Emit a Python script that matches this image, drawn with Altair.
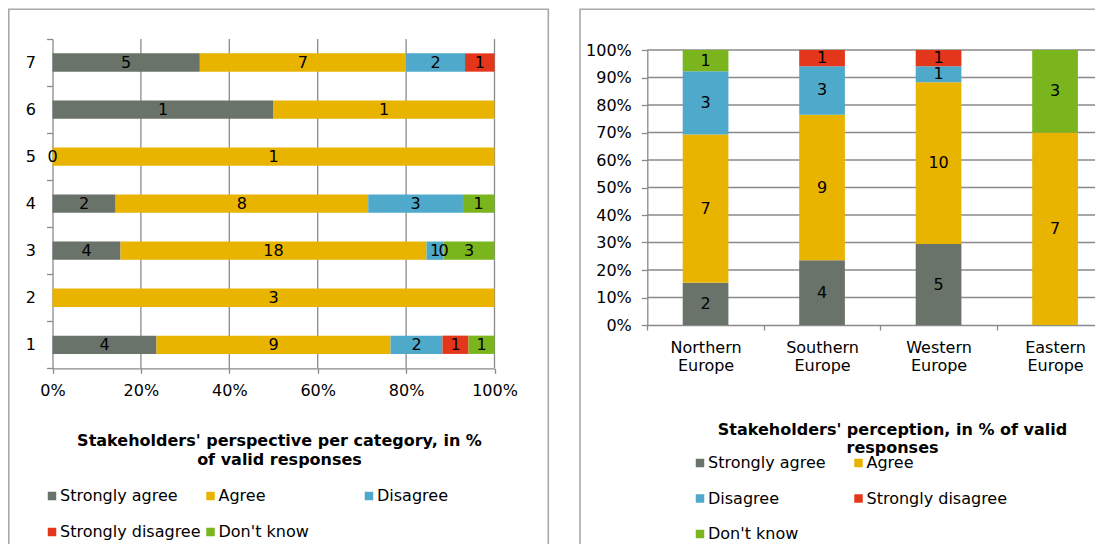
import altair as alt
import pandas as pd

# ---------------- data ----------------
responses = ["Strongly agree", "Agree", "Disagree", "Strongly disagree", "Don't know"]
colors = ["#6A7369", "#E8B400", "#4FA9CB", "#E3361A", "#7AB51E"]

# left chart: categories listed top to bottom
left_categories = ["7", "6", "5", "4", "3", "2", "1"]
left_strongly_agree = [5, 1, 0, 2, 4, None, 4]
left_agree = [7, 1, 1, 8, 18, 3, 9]
left_disagree = [2, None, None, 3, 1, None, 2]
left_strongly_disagree = [1, None, None, None, 0, None, 1]
left_dont_know = [None, None, None, 1, 3, None, 1]
left_ticks = [0, 0.2, 0.4, 0.6, 0.8, 1.0]

# right chart
regions = ["Northern Europe", "Southern Europe", "Western Europe", "Eastern Europe"]
right_strongly_agree = [2, 4, 5, None]
right_agree = [7, 9, 10, 7]
right_disagree = [3, 3, 1, None]
right_strongly_disagree = [None, 1, 1, None]
right_dont_know = [1, None, None, 3]
right_ticks = [0, 0.1, 0.2, 0.3, 0.4, 0.5, 0.6, 0.7, 0.8, 0.9, 1.0]

left_title = ["Stakeholders' perspective per category, in %", "of valid responses"]
right_title = ["Stakeholders' perception, in % of valid", "responses"]


def build(cats, series):
    rows = []
    for ci, c in enumerate(cats):
        for ri, (r, vals) in enumerate(zip(responses, series)):
            v = vals[ci]
            if v is not None:
                rows.append({"cat": c, "resp": r, "order": ri, "n": v})
    return pd.DataFrame(rows)


left_df = build(left_categories, [left_strongly_agree, left_agree, left_disagree,
                                  left_strongly_disagree, left_dont_know])
right_df = build(regions, [right_strongly_agree, right_agree, right_disagree,
                           right_strongly_disagree, right_dont_know])

# ---------------- styling ----------------
FONT = "DejaVu Sans"
GRID = "#8A8A8A"
BORDER = "#A8A8A8"
W, H = 1087, 536

# left geometry (chart coords)
LX0, LX1 = 44.5, 486.5
LY0, LY1 = 31.0, 360.3
# right geometry
RX0, RX1 = 639.3, 1105.3
RY0, RY1 = 317.0, 42.0


def legend(x, y, cols, row_pad):
    return alt.Legend(
        title=None, orient="none", legendX=x, legendY=y, columns=cols,
        direction="horizontal", gridAlign="all", symbolType="square",
        symbolSize=72, symbolStrokeWidth=0, labelFont=FONT, labelFontSize=16,
        labelColor="#000000", labelOffset=0, rowPadding=row_pad,
        columnPadding=1.5, labelLimit=300,
    )


color_left = alt.Color("resp:N", scale=alt.Scale(domain=responses, range=colors),
                       legend=legend(36, 480, 3, 20))
color_right = alt.Color("resp:N", scale=alt.Scale(domain=responses, range=colors),
                        legend=legend(684, 447, 2, 19.5))

# ---------------- left chart ----------------
lx_scale = alt.Scale(domain=[0, 1], range=[LX0, LX1], nice=False, zero=False)
ly_scale = alt.Scale(domain=left_categories, range=[LY0, LY1],
                     paddingInner=0, paddingOuter=0)

lx_axis = alt.Axis(
    orient="bottom", offset=LY1 - H, values=left_ticks, format=".0%", grid=False,
    labelFlush=False,
    domainColor=GRID, domainWidth=1.3, tickColor=GRID, tickWidth=1.3, tickSize=5,
    labelFont=FONT, labelFontSize=16, labelColor="#000000", labelPadding=9,
    title=left_title, titleFont=FONT, titleFontSize=16, titleFontWeight="bold",
    titleColor="#000000", titleX=271, titleY=77, titleAlign="center",
    titleBaseline="alphabetic", titleLineHeight=19, titleAngle=0,
)
ly_axis = alt.Axis(
    orient="left", offset=-LX0, grid=False, tickBand="extent",
    domainColor=GRID, domainWidth=1.3, tickColor=GRID, tickWidth=1.3, tickSize=6,
    labelFont=FONT, labelFontSize=16, labelColor="#000000", labelPadding=11,
    title=None,
)

left_base = alt.Chart(left_df).transform_stack(
    stack="n", groupby=["cat"], as_=["s0", "s1"], offset="normalize",
    sort=[alt.SortField("order", order="ascending")],
).transform_calculate(mid="(datum.s0 + datum.s1) / 2")

left_grid = alt.Chart(pd.DataFrame({"v": left_ticks[1:]})).mark_rule(
    color=GRID, strokeWidth=1.3
).encode(
    x=alt.X("v:Q", scale=lx_scale, axis=lx_axis),
    y=alt.value(LY0), y2=alt.value(LY1),
)
left_bars = left_base.mark_bar(size=18.3).encode(
    x=alt.X("s0:Q", scale=lx_scale, axis=lx_axis),
    x2="s1:Q",
    y=alt.Y("cat:N", scale=ly_scale, axis=ly_axis, sort=left_categories),
    color=color_left,
)
left_text = left_base.mark_text(font=FONT, fontSize=16, color="#000000",
                                baseline="middle").encode(
    x=alt.X("mid:Q", scale=lx_scale, axis=lx_axis),
    y=alt.Y("cat:N", scale=ly_scale, axis=ly_axis, sort=left_categories),
    text=alt.Text("n:Q"),
)
left = alt.layer(left_grid, left_bars, left_text)

# ---------------- right chart ----------------
rx_scale = alt.Scale(domain=regions, range=[RX0, RX1], paddingInner=0, paddingOuter=0)
ry_scale = alt.Scale(domain=[0, 1], range=[RY0, RY1], nice=False, zero=False)

rx_axis = alt.Axis(
    orient="bottom", offset=RY0 - H, grid=False, tickBand="extent", labelAngle=0,
    labelExpr="split(datum.label, ' ')", labelLineHeight=18.5,
    domainColor=GRID, domainWidth=1.3, tickColor=GRID, tickWidth=1.3, tickSize=5,
    labelFont=FONT, labelFontSize=16, labelColor="#000000", labelPadding=9,
    title=right_title, titleFont=FONT, titleFontSize=16, titleFontWeight="bold",
    titleColor="#000000", titleX=884, titleY=109, titleAlign="center",
    titleBaseline="alphabetic", titleLineHeight=18.5, titleAngle=0,
)
ry_axis = alt.Axis(
    orient="left", offset=-RX0, values=right_ticks, format=".0%", grid=False,
    labelFlush=False,
    domainColor=GRID, domainWidth=1.3, tickColor=GRID, tickWidth=1.3, tickSize=6,
    labelFont=FONT, labelFontSize=16, labelColor="#000000", labelPadding=10,
    title=None,
)

right_base = alt.Chart(right_df).transform_stack(
    stack="n", groupby=["cat"], as_=["s0", "s1"], offset="normalize",
    sort=[alt.SortField("order", order="ascending")],
).transform_calculate(mid="(datum.s0 + datum.s1) / 2")

right_grid = alt.Chart(pd.DataFrame({"v": right_ticks[1:]})).mark_rule(
    color=GRID, strokeWidth=1.3
).encode(
    y=alt.Y("v:Q", scale=ry_scale, axis=ry_axis),
    x=alt.value(RX0), x2=alt.value(RX1),
)
right_bars = right_base.mark_bar(size=45.7).encode(
    x=alt.X("cat:N", scale=rx_scale, axis=rx_axis, sort=regions),
    y=alt.Y("s0:Q", scale=ry_scale, axis=ry_axis),
    y2="s1:Q",
    color=color_right,
)
right_text = right_base.mark_text(font=FONT, fontSize=16, color="#000000",
                                  baseline="middle").encode(
    x=alt.X("cat:N", scale=rx_scale, axis=rx_axis, sort=regions),
    y=alt.Y("mid:Q", scale=ry_scale, axis=ry_axis),
    text=alt.Text("n:Q"),
)
right = alt.layer(right_grid, right_bars, right_text)

# ---------------- panel borders ----------------
border_left = alt.Chart(pd.DataFrame({"p": [0]})).mark_rect(
    fillOpacity=0, stroke=BORDER, strokeWidth=1.6
).encode(x=alt.value(0.8), x2=alt.value(540.3), y=alt.value(1.3), y2=alt.value(620))
border_right = alt.Chart(pd.DataFrame({"p": [0]})).mark_rect(
    fillOpacity=0, stroke=BORDER, strokeWidth=1.6
).encode(x=alt.value(572), x2=alt.value(1250), y=alt.value(1.3), y2=alt.value(620))

chart = alt.layer(left, right, border_left, border_right).resolve_scale(
    x="independent", y="independent", color="independent"
).properties(
    width=W, height=H, padding=0,
    autosize=alt.AutoSizeParams(type="none"),
    background="#ffffff",
).configure_view(stroke=None)

chart.save("out.html", embed_options={"renderer": "svg", "actions": False})
